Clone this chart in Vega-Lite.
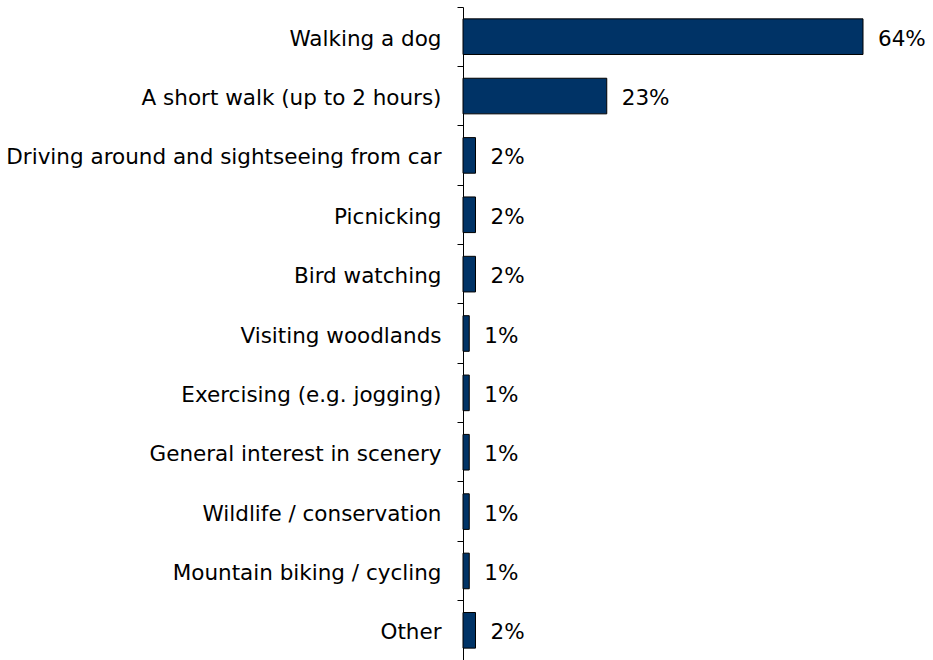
{
  "$schema": "https://vega.github.io/schema/vega-lite/v6.json",
  "autosize": "none",
  "padding": {"left": 463, "top": 7, "right": 0, "bottom": 0},
  "width": 470,
  "height": 653,
  "background": "white",
  "config": {"view": {"stroke": null}, "font": "DejaVu Sans"},
  "data": {"values": [
    {"activity": "Walking a dog", "share": 0.64},
    {"activity": "A short walk (up to 2 hours)", "share": 0.23},
    {"activity": "Driving around and sightseeing from car", "share": 0.02},
    {"activity": "Picnicking", "share": 0.02},
    {"activity": "Bird watching", "share": 0.02},
    {"activity": "Visiting woodlands", "share": 0.01},
    {"activity": "Exercising (e.g. jogging)", "share": 0.01},
    {"activity": "General interest in scenery", "share": 0.01},
    {"activity": "Wildlife / conservation", "share": 0.01},
    {"activity": "Mountain biking / cycling", "share": 0.01},
    {"activity": "Other", "share": 0.02}
  ]},
  "encoding": {
    "y": {"field": "activity", "type": "nominal", "sort": null,
          "scale": {"paddingInner": 0, "paddingOuter": 0}},
    "x": {"field": "share", "type": "quantitative",
          "scale": {"domain": [0, 0.752], "nice": false, "zero": true},
          "axis": null}
  },
  "layer": [
    {
      "mark": {"type": "bar", "color": "#003366", "stroke": "#000000", "strokeWidth": 1, "height": {"band": 0.6}},
      "encoding": {
        "y": {"field": "activity", "type": "nominal", "sort": null,
              "axis": {"orient": "left", "title": null, "domain": true, "domainColor": "#000000", "domainWidth": 1,
                       "ticks": true, "tickColor": "#000000", "tickSize": 6, "bandPosition": 0,
                       "labels": false}}
      }
    },
    {
      "mark": {"type": "text", "align": "left", "baseline": "middle", "dx": 15, "dy": 3, "fontSize": 21.5, "color": "#000000"},
      "encoding": {
        "text": {"field": "share", "type": "quantitative", "format": ".0%"},
        "y": {"field": "activity", "type": "nominal", "sort": null,
              "axis": {"orient": "left", "title": null, "domain": false, "ticks": false, "labelPadding": 22,
                       "labelOffset": 3,
                       "labelFontSize": 21.5, "labelColor": "#000000", "labelLimit": 0}}
      }
    }
  ],
  "resolve": {"axis": {"y": "independent"}}
}
